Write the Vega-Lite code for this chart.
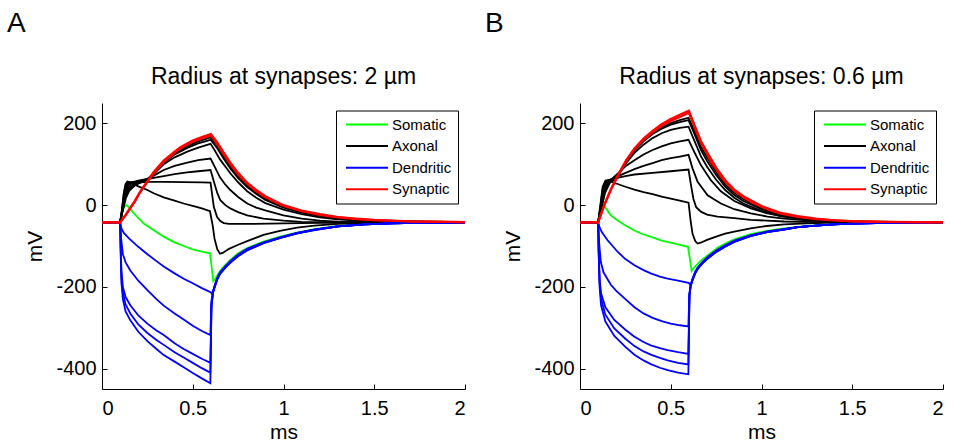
{
"$schema": "https://vega.github.io/schema/vega-lite/v6.json",
"background": "white",
"padding": {"left": 6, "top": 10, "right": 2, "bottom": 2},
"spacing": 14,
"config": {
  "font": "Liberation Sans",
  "view": {"stroke": null},
  "axis": {"domainColor": "black", "tickColor": "black", "labelColor": "black", "titleColor": "black", "labelFont": "Liberation Sans", "titleFont": "Liberation Sans", "labelFontSize": 20, "titleFontSize": 21, "titleFontWeight": "normal", "grid": false, "tickSize": -5, "domainWidth": 1, "tickWidth": 1, "labelPadding": 11},
  "title": {"font": "Liberation Sans", "fontWeight": "normal", "color": "black"},
  "legend": {"labelFont": "Liberation Sans", "labelFontSize": 15, "labelColor": "black"}
},
"resolve": {"scale": {"color": "independent"}},
"datasets": {
"A": [
{"g":"Somatic","id":"s","t":0,"v":-42},{"g":"Somatic","id":"s","t":0.1,"v":-42},{"g":"Somatic","id":"s","t":0.112,"v":-15},{"g":"Somatic","id":"s","t":0.125,"v":-2},{"g":"Somatic","id":"s","t":0.135,"v":0},{"g":"Somatic","id":"s","t":0.15,"v":-6},{"g":"Somatic","id":"s","t":0.18,"v":-22},{"g":"Somatic","id":"s","t":0.23,"v":-45},{"g":"Somatic","id":"s","t":0.3,"v":-66},{"g":"Somatic","id":"s","t":0.34,"v":-77},{"g":"Somatic","id":"s","t":0.4,"v":-91},{"g":"Somatic","id":"s","t":0.45,"v":-100},{"g":"Somatic","id":"s","t":0.5,"v":-108},{"g":"Somatic","id":"s","t":0.55,"v":-114},{"g":"Somatic","id":"s","t":0.595,"v":-118},{"g":"Somatic","id":"s","t":0.605,"v":-155},{"g":"Somatic","id":"s","t":0.613,"v":-186},{"g":"Somatic","id":"s","t":0.625,"v":-180},{"g":"Somatic","id":"s","t":0.64,"v":-168},{"g":"Somatic","id":"s","t":0.66,"v":-155},{"g":"Somatic","id":"s","t":0.707,"v":-134},{"g":"Somatic","id":"s","t":0.75,"v":-118},{"g":"Somatic","id":"s","t":0.8,"v":-105},{"g":"Somatic","id":"s","t":0.89,"v":-89},{"g":"Somatic","id":"s","t":0.98,"v":-77},{"g":"Somatic","id":"s","t":1.075,"v":-67},{"g":"Somatic","id":"s","t":1.17,"v":-59},{"g":"Somatic","id":"s","t":1.3,"v":-51},{"g":"Somatic","id":"s","t":1.45,"v":-46.5},{"g":"Somatic","id":"s","t":1.6,"v":-44},{"g":"Somatic","id":"s","t":1.8,"v":-43},{"g":"Somatic","id":"s","t":2,"v":-42.5},

{"g":"Axonal","id":"k7","t":0,"v":-42},{"g":"Axonal","id":"k7","t":0.1,"v":-42},{"g":"Axonal","id":"k7","t":0.11,"v":-10},{"g":"Axonal","id":"k7","t":0.12,"v":30},{"g":"Axonal","id":"k7","t":0.13,"v":52},{"g":"Axonal","id":"k7","t":0.14,"v":58},{"g":"Axonal","id":"k7","t":0.16,"v":55},{"g":"Axonal","id":"k7","t":0.2,"v":46},{"g":"Axonal","id":"k7","t":0.25,"v":37},{"g":"Axonal","id":"k7","t":0.285,"v":29},{"g":"Axonal","id":"k7","t":0.34,"v":19},{"g":"Axonal","id":"k7","t":0.4,"v":11},{"g":"Axonal","id":"k7","t":0.45,"v":4},{"g":"Axonal","id":"k7","t":0.5,"v":-2},{"g":"Axonal","id":"k7","t":0.55,"v":-8},{"g":"Axonal","id":"k7","t":0.595,"v":-15},{"g":"Axonal","id":"k7","t":0.61,"v":-50},{"g":"Axonal","id":"k7","t":0.62,"v":-82},{"g":"Axonal","id":"k7","t":0.635,"v":-108},{"g":"Axonal","id":"k7","t":0.65,"v":-119},{"g":"Axonal","id":"k7","t":0.665,"v":-117},{"g":"Axonal","id":"k7","t":0.7,"v":-107},{"g":"Axonal","id":"k7","t":0.75,"v":-97},{"g":"Axonal","id":"k7","t":0.8,"v":-88},{"g":"Axonal","id":"k7","t":0.89,"v":-73},{"g":"Axonal","id":"k7","t":0.98,"v":-63},{"g":"Axonal","id":"k7","t":1.075,"v":-55},{"g":"Axonal","id":"k7","t":1.17,"v":-50},{"g":"Axonal","id":"k7","t":1.3,"v":-46},{"g":"Axonal","id":"k7","t":1.5,"v":-43.5},{"g":"Axonal","id":"k7","t":1.8,"v":-42.5},{"g":"Axonal","id":"k7","t":2,"v":-42},

{"g":"Axonal","id":"k6","t":0,"v":-42},{"g":"Axonal","id":"k6","t":0.1,"v":-42},{"g":"Axonal","id":"k6","t":0.11,"v":-12},{"g":"Axonal","id":"k6","t":0.12,"v":25},{"g":"Axonal","id":"k6","t":0.13,"v":48},{"g":"Axonal","id":"k6","t":0.145,"v":55},{"g":"Axonal","id":"k6","t":0.17,"v":57},{"g":"Axonal","id":"k6","t":0.25,"v":57},{"g":"Axonal","id":"k6","t":0.35,"v":57},{"g":"Axonal","id":"k6","t":0.45,"v":56.5},{"g":"Axonal","id":"k6","t":0.55,"v":55.5},{"g":"Axonal","id":"k6","t":0.598,"v":55},{"g":"Axonal","id":"k6","t":0.616,"v":-4},{"g":"Axonal","id":"k6","t":0.634,"v":-29},{"g":"Axonal","id":"k6","t":0.652,"v":-39},{"g":"Axonal","id":"k6","t":0.671,"v":-44},{"g":"Axonal","id":"k6","t":0.7,"v":-46},{"g":"Axonal","id":"k6","t":0.8,"v":-46},{"g":"Axonal","id":"k6","t":1.0,"v":-44.5},{"g":"Axonal","id":"k6","t":1.3,"v":-43},{"g":"Axonal","id":"k6","t":2,"v":-42},

{"g":"Axonal","id":"k5","t":0,"v":-42},{"g":"Axonal","id":"k5","t":0.1,"v":-42},{"g":"Axonal","id":"k5","t":0.112,"v":-10},{"g":"Axonal","id":"k5","t":0.125,"v":30},{"g":"Axonal","id":"k5","t":0.14,"v":50},{"g":"Axonal","id":"k5","t":0.16,"v":55},{"g":"Axonal","id":"k5","t":0.2,"v":60},{"g":"Axonal","id":"k5","t":0.25,"v":64},{"g":"Axonal","id":"k5","t":0.3,"v":68},{"g":"Axonal","id":"k5","t":0.34,"v":71},{"g":"Axonal","id":"k5","t":0.4,"v":76},{"g":"Axonal","id":"k5","t":0.469,"v":80},{"g":"Axonal","id":"k5","t":0.53,"v":83},{"g":"Axonal","id":"k5","t":0.598,"v":86},{"g":"Axonal","id":"k5","t":0.615,"v":60},{"g":"Axonal","id":"k5","t":0.635,"v":30},{"g":"Axonal","id":"k5","t":0.652,"v":12},{"g":"Axonal","id":"k5","t":0.68,"v":0},{"g":"Axonal","id":"k5","t":0.707,"v":-8},{"g":"Axonal","id":"k5","t":0.75,"v":-17},{"g":"Axonal","id":"k5","t":0.8,"v":-25},{"g":"Axonal","id":"k5","t":0.89,"v":-33},{"g":"Axonal","id":"k5","t":1.0,"v":-38},{"g":"Axonal","id":"k5","t":1.1,"v":-41},{"g":"Axonal","id":"k5","t":1.3,"v":-42.5},{"g":"Axonal","id":"k5","t":2,"v":-42},

{"g":"Axonal","id":"k4","t":0,"v":-42},{"g":"Axonal","id":"k4","t":0.1,"v":-42},{"g":"Axonal","id":"k4","t":0.113,"v":-10},{"g":"Axonal","id":"k4","t":0.127,"v":28},{"g":"Axonal","id":"k4","t":0.145,"v":48},{"g":"Axonal","id":"k4","t":0.17,"v":55},{"g":"Axonal","id":"k4","t":0.2,"v":58},{"g":"Axonal","id":"k4","t":0.25,"v":64},{"g":"Axonal","id":"k4","t":0.3,"v":76},{"g":"Axonal","id":"k4","t":0.34,"v":86},{"g":"Axonal","id":"k4","t":0.4,"v":96},{"g":"Axonal","id":"k4","t":0.47,"v":104},{"g":"Axonal","id":"k4","t":0.53,"v":110},{"g":"Axonal","id":"k4","t":0.598,"v":114},{"g":"Axonal","id":"k4","t":0.62,"v":95},{"g":"Axonal","id":"k4","t":0.65,"v":68},{"g":"Axonal","id":"k4","t":0.68,"v":50},{"g":"Axonal","id":"k4","t":0.707,"v":37},{"g":"Axonal","id":"k4","t":0.75,"v":20},{"g":"Axonal","id":"k4","t":0.8,"v":4},{"g":"Axonal","id":"k4","t":0.85,"v":-6},{"g":"Axonal","id":"k4","t":0.9,"v":-13},{"g":"Axonal","id":"k4","t":1.0,"v":-25},{"g":"Axonal","id":"k4","t":1.1,"v":-33},{"g":"Axonal","id":"k4","t":1.2,"v":-38},{"g":"Axonal","id":"k4","t":1.3,"v":-40.5},{"g":"Axonal","id":"k4","t":1.5,"v":-42},{"g":"Axonal","id":"k4","t":2,"v":-42},

{"g":"Axonal","id":"k3","t":0,"v":-42},{"g":"Axonal","id":"k3","t":0.1,"v":-42},{"g":"Axonal","id":"k3","t":0.114,"v":-10},{"g":"Axonal","id":"k3","t":0.13,"v":25},{"g":"Axonal","id":"k3","t":0.15,"v":45},{"g":"Axonal","id":"k3","t":0.18,"v":53},{"g":"Axonal","id":"k3","t":0.2,"v":57},{"g":"Axonal","id":"k3","t":0.25,"v":64},{"g":"Axonal","id":"k3","t":0.3,"v":83},{"g":"Axonal","id":"k3","t":0.34,"v":100},{"g":"Axonal","id":"k3","t":0.4,"v":117},{"g":"Axonal","id":"k3","t":0.47,"v":131},{"g":"Axonal","id":"k3","t":0.53,"v":141},{"g":"Axonal","id":"k3","t":0.598,"v":150},{"g":"Axonal","id":"k3","t":0.62,"v":135},{"g":"Axonal","id":"k3","t":0.65,"v":112},{"g":"Axonal","id":"k3","t":0.707,"v":78},{"g":"Axonal","id":"k3","t":0.75,"v":56},{"g":"Axonal","id":"k3","t":0.8,"v":34},{"g":"Axonal","id":"k3","t":0.85,"v":18},{"g":"Axonal","id":"k3","t":0.9,"v":5},{"g":"Axonal","id":"k3","t":1.0,"v":-11},{"g":"Axonal","id":"k3","t":1.1,"v":-22},{"g":"Axonal","id":"k3","t":1.2,"v":-30},{"g":"Axonal","id":"k3","t":1.3,"v":-35},{"g":"Axonal","id":"k3","t":1.4,"v":-38},{"g":"Axonal","id":"k3","t":1.5,"v":-40},{"g":"Axonal","id":"k3","t":1.7,"v":-41.5},{"g":"Axonal","id":"k3","t":2,"v":-42},

{"g":"Axonal","id":"k2","t":0,"v":-42},{"g":"Axonal","id":"k2","t":0.1,"v":-42},{"g":"Axonal","id":"k2","t":0.115,"v":-10},{"g":"Axonal","id":"k2","t":0.13,"v":20},{"g":"Axonal","id":"k2","t":0.15,"v":40},{"g":"Axonal","id":"k2","t":0.18,"v":50},{"g":"Axonal","id":"k2","t":0.21,"v":55},{"g":"Axonal","id":"k2","t":0.25,"v":60},{"g":"Axonal","id":"k2","t":0.3,"v":84},{"g":"Axonal","id":"k2","t":0.34,"v":104},{"g":"Axonal","id":"k2","t":0.4,"v":124},{"g":"Axonal","id":"k2","t":0.47,"v":140},{"g":"Axonal","id":"k2","t":0.53,"v":151},{"g":"Axonal","id":"k2","t":0.598,"v":160},{"g":"Axonal","id":"k2","t":0.634,"v":140},{"g":"Axonal","id":"k2","t":0.67,"v":114},{"g":"Axonal","id":"k2","t":0.707,"v":90},{"g":"Axonal","id":"k2","t":0.75,"v":66},{"g":"Axonal","id":"k2","t":0.8,"v":44},{"g":"Axonal","id":"k2","t":0.85,"v":27},{"g":"Axonal","id":"k2","t":0.9,"v":13},{"g":"Axonal","id":"k2","t":1.0,"v":-6},{"g":"Axonal","id":"k2","t":1.1,"v":-18},{"g":"Axonal","id":"k2","t":1.2,"v":-26},{"g":"Axonal","id":"k2","t":1.3,"v":-32},{"g":"Axonal","id":"k2","t":1.4,"v":-35.5},{"g":"Axonal","id":"k2","t":1.5,"v":-38},{"g":"Axonal","id":"k2","t":1.7,"v":-40},{"g":"Axonal","id":"k2","t":2,"v":-41.5},

{"g":"Axonal","id":"k1","t":0,"v":-42},{"g":"Axonal","id":"k1","t":0.1,"v":-42},{"g":"Axonal","id":"k1","t":0.116,"v":-10},{"g":"Axonal","id":"k1","t":0.132,"v":18},{"g":"Axonal","id":"k1","t":0.15,"v":35},{"g":"Axonal","id":"k1","t":0.18,"v":48},{"g":"Axonal","id":"k1","t":0.21,"v":55},{"g":"Axonal","id":"k1","t":0.25,"v":60},{"g":"Axonal","id":"k1","t":0.3,"v":85},{"g":"Axonal","id":"k1","t":0.34,"v":105},{"g":"Axonal","id":"k1","t":0.4,"v":126},{"g":"Axonal","id":"k1","t":0.47,"v":144},{"g":"Axonal","id":"k1","t":0.53,"v":156},{"g":"Axonal","id":"k1","t":0.598,"v":166},{"g":"Axonal","id":"k1","t":0.634,"v":147},{"g":"Axonal","id":"k1","t":0.67,"v":121},{"g":"Axonal","id":"k1","t":0.707,"v":96},{"g":"Axonal","id":"k1","t":0.75,"v":71},{"g":"Axonal","id":"k1","t":0.8,"v":48},{"g":"Axonal","id":"k1","t":0.85,"v":30},{"g":"Axonal","id":"k1","t":0.9,"v":16},{"g":"Axonal","id":"k1","t":1.0,"v":-4},{"g":"Axonal","id":"k1","t":1.1,"v":-17},{"g":"Axonal","id":"k1","t":1.2,"v":-25},{"g":"Axonal","id":"k1","t":1.3,"v":-31},{"g":"Axonal","id":"k1","t":1.4,"v":-35},{"g":"Axonal","id":"k1","t":1.5,"v":-37.5},{"g":"Axonal","id":"k1","t":1.7,"v":-40},{"g":"Axonal","id":"k1","t":2,"v":-41.5},

{"g":"Dendritic","id":"b1","t":0,"v":-42},{"g":"Dendritic","id":"b1","t":0.1,"v":-42},{"g":"Dendritic","id":"b1","t":0.105,"v":-55},{"g":"Dendritic","id":"b1","t":0.12,"v":-68},{"g":"Dendritic","id":"b1","t":0.15,"v":-82},{"g":"Dendritic","id":"b1","t":0.2,"v":-102},{"g":"Dendritic","id":"b1","t":0.25,"v":-120},{"g":"Dendritic","id":"b1","t":0.3,"v":-137},{"g":"Dendritic","id":"b1","t":0.34,"v":-150},{"g":"Dendritic","id":"b1","t":0.4,"v":-167},{"g":"Dendritic","id":"b1","t":0.45,"v":-180},{"g":"Dendritic","id":"b1","t":0.5,"v":-191},{"g":"Dendritic","id":"b1","t":0.55,"v":-203},{"g":"Dendritic","id":"b1","t":0.598,"v":-213},{"g":"Dendritic","id":"b1","t":0.606,"v":-217},{"g":"Dendritic","id":"b1","t":0.612,"v":-210},{"g":"Dendritic","id":"b1","t":0.62,"v":-198},{"g":"Dendritic","id":"b1","t":0.635,"v":-178},{"g":"Dendritic","id":"b1","t":0.65,"v":-165},{"g":"Dendritic","id":"b1","t":0.68,"v":-149},{"g":"Dendritic","id":"b1","t":0.707,"v":-137},{"g":"Dendritic","id":"b1","t":0.75,"v":-121},{"g":"Dendritic","id":"b1","t":0.8,"v":-107},{"g":"Dendritic","id":"b1","t":0.89,"v":-91},{"g":"Dendritic","id":"b1","t":0.98,"v":-79},{"g":"Dendritic","id":"b1","t":1.075,"v":-68},{"g":"Dendritic","id":"b1","t":1.17,"v":-60},{"g":"Dendritic","id":"b1","t":1.3,"v":-52},{"g":"Dendritic","id":"b1","t":1.45,"v":-47},{"g":"Dendritic","id":"b1","t":1.6,"v":-44.5},{"g":"Dendritic","id":"b1","t":1.8,"v":-43},{"g":"Dendritic","id":"b1","t":2,"v":-42.5},

{"g":"Dendritic","id":"b2","t":0,"v":-42},{"g":"Dendritic","id":"b2","t":0.1,"v":-42},{"g":"Dendritic","id":"b2","t":0.105,"v":-80},{"g":"Dendritic","id":"b2","t":0.115,"v":-120},{"g":"Dendritic","id":"b2","t":0.13,"v":-140},{"g":"Dendritic","id":"b2","t":0.156,"v":-160},{"g":"Dendritic","id":"b2","t":0.2,"v":-185},{"g":"Dendritic","id":"b2","t":0.25,"v":-208},{"g":"Dendritic","id":"b2","t":0.3,"v":-230},{"g":"Dendritic","id":"b2","t":0.34,"v":-246},{"g":"Dendritic","id":"b2","t":0.4,"v":-265},{"g":"Dendritic","id":"b2","t":0.45,"v":-280},{"g":"Dendritic","id":"b2","t":0.5,"v":-295},{"g":"Dendritic","id":"b2","t":0.55,"v":-308},{"g":"Dendritic","id":"b2","t":0.597,"v":-318},{"g":"Dendritic","id":"b2","t":0.603,"v":-235},{"g":"Dendritic","id":"b2","t":0.612,"v":-211},{"g":"Dendritic","id":"b2","t":0.62,"v":-199},{"g":"Dendritic","id":"b2","t":0.635,"v":-179},{"g":"Dendritic","id":"b2","t":0.65,"v":-166},{"g":"Dendritic","id":"b2","t":0.68,"v":-150},{"g":"Dendritic","id":"b2","t":0.707,"v":-138},{"g":"Dendritic","id":"b2","t":0.75,"v":-122},{"g":"Dendritic","id":"b2","t":0.8,"v":-108},{"g":"Dendritic","id":"b2","t":0.89,"v":-92},{"g":"Dendritic","id":"b2","t":0.98,"v":-80},{"g":"Dendritic","id":"b2","t":1.075,"v":-68},{"g":"Dendritic","id":"b2","t":1.17,"v":-60},{"g":"Dendritic","id":"b2","t":1.3,"v":-52},{"g":"Dendritic","id":"b2","t":1.45,"v":-47},{"g":"Dendritic","id":"b2","t":1.6,"v":-44.5},{"g":"Dendritic","id":"b2","t":1.8,"v":-43},{"g":"Dendritic","id":"b2","t":2,"v":-42.5},

{"g":"Dendritic","id":"b3","t":0,"v":-42},{"g":"Dendritic","id":"b3","t":0.1,"v":-42},{"g":"Dendritic","id":"b3","t":0.103,"v":-100},{"g":"Dendritic","id":"b3","t":0.107,"v":-160},{"g":"Dendritic","id":"b3","t":0.115,"v":-200},{"g":"Dendritic","id":"b3","t":0.13,"v":-225},{"g":"Dendritic","id":"b3","t":0.156,"v":-245},{"g":"Dendritic","id":"b3","t":0.2,"v":-270},{"g":"Dendritic","id":"b3","t":0.25,"v":-290},{"g":"Dendritic","id":"b3","t":0.3,"v":-307},{"g":"Dendritic","id":"b3","t":0.34,"v":-318},{"g":"Dendritic","id":"b3","t":0.4,"v":-338},{"g":"Dendritic","id":"b3","t":0.45,"v":-352},{"g":"Dendritic","id":"b3","t":0.5,"v":-364},{"g":"Dendritic","id":"b3","t":0.55,"v":-376},{"g":"Dendritic","id":"b3","t":0.597,"v":-386},{"g":"Dendritic","id":"b3","t":0.603,"v":-240},{"g":"Dendritic","id":"b3","t":0.612,"v":-212},{"g":"Dendritic","id":"b3","t":0.62,"v":-200},{"g":"Dendritic","id":"b3","t":0.635,"v":-180},{"g":"Dendritic","id":"b3","t":0.65,"v":-167},{"g":"Dendritic","id":"b3","t":0.68,"v":-151},{"g":"Dendritic","id":"b3","t":0.707,"v":-139},{"g":"Dendritic","id":"b3","t":0.75,"v":-123},{"g":"Dendritic","id":"b3","t":0.8,"v":-109},{"g":"Dendritic","id":"b3","t":0.89,"v":-92},{"g":"Dendritic","id":"b3","t":0.98,"v":-80},{"g":"Dendritic","id":"b3","t":1.075,"v":-69},{"g":"Dendritic","id":"b3","t":1.17,"v":-60},{"g":"Dendritic","id":"b3","t":1.3,"v":-52},{"g":"Dendritic","id":"b3","t":1.45,"v":-47},{"g":"Dendritic","id":"b3","t":1.6,"v":-44.5},{"g":"Dendritic","id":"b3","t":1.8,"v":-43},{"g":"Dendritic","id":"b3","t":2,"v":-42.5},

{"g":"Dendritic","id":"b4","t":0,"v":-42},{"g":"Dendritic","id":"b4","t":0.1,"v":-42},{"g":"Dendritic","id":"b4","t":0.103,"v":-110},{"g":"Dendritic","id":"b4","t":0.107,"v":-175},{"g":"Dendritic","id":"b4","t":0.115,"v":-215},{"g":"Dendritic","id":"b4","t":0.13,"v":-243},{"g":"Dendritic","id":"b4","t":0.156,"v":-265},{"g":"Dendritic","id":"b4","t":0.2,"v":-292},{"g":"Dendritic","id":"b4","t":0.25,"v":-313},{"g":"Dendritic","id":"b4","t":0.3,"v":-330},{"g":"Dendritic","id":"b4","t":0.34,"v":-342},{"g":"Dendritic","id":"b4","t":0.4,"v":-360},{"g":"Dendritic","id":"b4","t":0.45,"v":-373},{"g":"Dendritic","id":"b4","t":0.5,"v":-386},{"g":"Dendritic","id":"b4","t":0.55,"v":-399},{"g":"Dendritic","id":"b4","t":0.597,"v":-410},{"g":"Dendritic","id":"b4","t":0.603,"v":-245},{"g":"Dendritic","id":"b4","t":0.612,"v":-213},{"g":"Dendritic","id":"b4","t":0.62,"v":-201},{"g":"Dendritic","id":"b4","t":0.635,"v":-181},{"g":"Dendritic","id":"b4","t":0.65,"v":-168},{"g":"Dendritic","id":"b4","t":0.68,"v":-152},{"g":"Dendritic","id":"b4","t":0.707,"v":-140},{"g":"Dendritic","id":"b4","t":0.75,"v":-124},{"g":"Dendritic","id":"b4","t":0.8,"v":-110},{"g":"Dendritic","id":"b4","t":0.89,"v":-93},{"g":"Dendritic","id":"b4","t":0.98,"v":-80},{"g":"Dendritic","id":"b4","t":1.075,"v":-69},{"g":"Dendritic","id":"b4","t":1.17,"v":-61},{"g":"Dendritic","id":"b4","t":1.3,"v":-52},{"g":"Dendritic","id":"b4","t":1.45,"v":-47},{"g":"Dendritic","id":"b4","t":1.6,"v":-44.5},{"g":"Dendritic","id":"b4","t":1.8,"v":-43},{"g":"Dendritic","id":"b4","t":2,"v":-42.5},

{"g":"Dendritic","id":"b5","t":0,"v":-42},{"g":"Dendritic","id":"b5","t":0.1,"v":-42},{"g":"Dendritic","id":"b5","t":0.103,"v":-120},{"g":"Dendritic","id":"b5","t":0.107,"v":-190},{"g":"Dendritic","id":"b5","t":0.115,"v":-230},{"g":"Dendritic","id":"b5","t":0.13,"v":-260},{"g":"Dendritic","id":"b5","t":0.156,"v":-282},{"g":"Dendritic","id":"b5","t":0.2,"v":-310},{"g":"Dendritic","id":"b5","t":0.25,"v":-333},{"g":"Dendritic","id":"b5","t":0.3,"v":-352},{"g":"Dendritic","id":"b5","t":0.34,"v":-367},{"g":"Dendritic","id":"b5","t":0.4,"v":-383},{"g":"Dendritic","id":"b5","t":0.45,"v":-397},{"g":"Dendritic","id":"b5","t":0.5,"v":-411},{"g":"Dendritic","id":"b5","t":0.55,"v":-424},{"g":"Dendritic","id":"b5","t":0.597,"v":-436},{"g":"Dendritic","id":"b5","t":0.603,"v":-250},{"g":"Dendritic","id":"b5","t":0.612,"v":-214},{"g":"Dendritic","id":"b5","t":0.62,"v":-202},{"g":"Dendritic","id":"b5","t":0.635,"v":-182},{"g":"Dendritic","id":"b5","t":0.65,"v":-169},{"g":"Dendritic","id":"b5","t":0.68,"v":-153},{"g":"Dendritic","id":"b5","t":0.707,"v":-141},{"g":"Dendritic","id":"b5","t":0.75,"v":-125},{"g":"Dendritic","id":"b5","t":0.8,"v":-111},{"g":"Dendritic","id":"b5","t":0.89,"v":-93},{"g":"Dendritic","id":"b5","t":0.98,"v":-81},{"g":"Dendritic","id":"b5","t":1.075,"v":-69},{"g":"Dendritic","id":"b5","t":1.17,"v":-61},{"g":"Dendritic","id":"b5","t":1.3,"v":-52},{"g":"Dendritic","id":"b5","t":1.45,"v":-47},{"g":"Dendritic","id":"b5","t":1.6,"v":-44.5},{"g":"Dendritic","id":"b5","t":1.8,"v":-43},{"g":"Dendritic","id":"b5","t":2,"v":-42.5},

{"g":"Synaptic","id":"r1","t":0,"v":-42},{"g":"Synaptic","id":"r1","t":0.1,"v":-42},{"g":"Synaptic","id":"r1","t":0.13,"v":-25},{"g":"Synaptic","id":"r1","t":0.156,"v":-8},{"g":"Synaptic","id":"r1","t":0.18,"v":8},{"g":"Synaptic","id":"r1","t":0.211,"v":32},{"g":"Synaptic","id":"r1","t":0.25,"v":57},{"g":"Synaptic","id":"r1","t":0.285,"v":78},{"g":"Synaptic","id":"r1","t":0.34,"v":106},{"g":"Synaptic","id":"r1","t":0.4,"v":128},{"g":"Synaptic","id":"r1","t":0.432,"v":139},{"g":"Synaptic","id":"r1","t":0.5,"v":155},{"g":"Synaptic","id":"r1","t":0.55,"v":163},{"g":"Synaptic","id":"r1","t":0.6,"v":170},{"g":"Synaptic","id":"r1","t":0.634,"v":150},{"g":"Synaptic","id":"r1","t":0.67,"v":125},{"g":"Synaptic","id":"r1","t":0.707,"v":100},{"g":"Synaptic","id":"r1","t":0.75,"v":75},{"g":"Synaptic","id":"r1","t":0.8,"v":52},{"g":"Synaptic","id":"r1","t":0.85,"v":34},{"g":"Synaptic","id":"r1","t":0.9,"v":19},{"g":"Synaptic","id":"r1","t":1.0,"v":-2},{"g":"Synaptic","id":"r1","t":1.1,"v":-15},{"g":"Synaptic","id":"r1","t":1.2,"v":-24},{"g":"Synaptic","id":"r1","t":1.3,"v":-30},{"g":"Synaptic","id":"r1","t":1.4,"v":-34},{"g":"Synaptic","id":"r1","t":1.5,"v":-37},{"g":"Synaptic","id":"r1","t":1.7,"v":-40},{"g":"Synaptic","id":"r1","t":2,"v":-41.5},

{"g":"Synaptic","id":"r2","t":0,"v":-42},{"g":"Synaptic","id":"r2","t":0.1,"v":-42},{"g":"Synaptic","id":"r2","t":0.13,"v":-24},{"g":"Synaptic","id":"r2","t":0.156,"v":-6},{"g":"Synaptic","id":"r2","t":0.18,"v":10},{"g":"Synaptic","id":"r2","t":0.211,"v":34},{"g":"Synaptic","id":"r2","t":0.25,"v":59},{"g":"Synaptic","id":"r2","t":0.285,"v":81},{"g":"Synaptic","id":"r2","t":0.34,"v":109},{"g":"Synaptic","id":"r2","t":0.4,"v":131},{"g":"Synaptic","id":"r2","t":0.432,"v":142},{"g":"Synaptic","id":"r2","t":0.5,"v":158},{"g":"Synaptic","id":"r2","t":0.55,"v":167},{"g":"Synaptic","id":"r2","t":0.6,"v":174},{"g":"Synaptic","id":"r2","t":0.634,"v":154},{"g":"Synaptic","id":"r2","t":0.67,"v":129},{"g":"Synaptic","id":"r2","t":0.707,"v":104},{"g":"Synaptic","id":"r2","t":0.75,"v":79},{"g":"Synaptic","id":"r2","t":0.8,"v":55},{"g":"Synaptic","id":"r2","t":0.85,"v":37},{"g":"Synaptic","id":"r2","t":0.9,"v":22},{"g":"Synaptic","id":"r2","t":1.0,"v":0},{"g":"Synaptic","id":"r2","t":1.1,"v":-13},{"g":"Synaptic","id":"r2","t":1.2,"v":-22},{"g":"Synaptic","id":"r2","t":1.3,"v":-29},{"g":"Synaptic","id":"r2","t":1.4,"v":-33},{"g":"Synaptic","id":"r2","t":1.5,"v":-36},{"g":"Synaptic","id":"r2","t":1.7,"v":-39.5},{"g":"Synaptic","id":"r2","t":2,"v":-41.5}
],
"B": [
{"g":"Somatic","id":"s","t":0,"v":-42},{"g":"Somatic","id":"s","t":0.1,"v":-42},{"g":"Somatic","id":"s","t":0.112,"v":-8},{"g":"Somatic","id":"s","t":0.125,"v":2},{"g":"Somatic","id":"s","t":0.14,"v":-6},{"g":"Somatic","id":"s","t":0.17,"v":-25},{"g":"Somatic","id":"s","t":0.2,"v":-35},{"g":"Somatic","id":"s","t":0.244,"v":-48},{"g":"Somatic","id":"s","t":0.3,"v":-62},{"g":"Somatic","id":"s","t":0.34,"v":-70},{"g":"Somatic","id":"s","t":0.4,"v":-79},{"g":"Somatic","id":"s","t":0.45,"v":-87},{"g":"Somatic","id":"s","t":0.5,"v":-92},{"g":"Somatic","id":"s","t":0.55,"v":-97},{"g":"Somatic","id":"s","t":0.595,"v":-102},{"g":"Somatic","id":"s","t":0.605,"v":-130},{"g":"Somatic","id":"s","t":0.615,"v":-161},{"g":"Somatic","id":"s","t":0.63,"v":-152},{"g":"Somatic","id":"s","t":0.648,"v":-144},{"g":"Somatic","id":"s","t":0.666,"v":-136},{"g":"Somatic","id":"s","t":0.703,"v":-123},{"g":"Somatic","id":"s","t":0.758,"v":-104},{"g":"Somatic","id":"s","t":0.8,"v":-94},{"g":"Somatic","id":"s","t":0.85,"v":-84},{"g":"Somatic","id":"s","t":0.94,"v":-71},{"g":"Somatic","id":"s","t":1.03,"v":-63},{"g":"Somatic","id":"s","t":1.125,"v":-57},{"g":"Somatic","id":"s","t":1.25,"v":-51},{"g":"Somatic","id":"s","t":1.4,"v":-47},{"g":"Somatic","id":"s","t":1.6,"v":-44},{"g":"Somatic","id":"s","t":1.8,"v":-43},{"g":"Somatic","id":"s","t":2,"v":-42.5},

{"g":"Axonal","id":"k7","t":0,"v":-42},{"g":"Axonal","id":"k7","t":0.1,"v":-42},{"g":"Axonal","id":"k7","t":0.112,"v":0},{"g":"Axonal","id":"k7","t":0.125,"v":45},{"g":"Axonal","id":"k7","t":0.14,"v":60},{"g":"Axonal","id":"k7","t":0.155,"v":61},{"g":"Axonal","id":"k7","t":0.2,"v":53},{"g":"Axonal","id":"k7","t":0.25,"v":45},{"g":"Axonal","id":"k7","t":0.3,"v":38},{"g":"Axonal","id":"k7","t":0.35,"v":32},{"g":"Axonal","id":"k7","t":0.4,"v":27},{"g":"Axonal","id":"k7","t":0.45,"v":21},{"g":"Axonal","id":"k7","t":0.5,"v":16},{"g":"Axonal","id":"k7","t":0.55,"v":11},{"g":"Axonal","id":"k7","t":0.598,"v":6},{"g":"Axonal","id":"k7","t":0.61,"v":-40},{"g":"Axonal","id":"k7","t":0.62,"v":-70},{"g":"Axonal","id":"k7","t":0.635,"v":-88},{"g":"Axonal","id":"k7","t":0.648,"v":-94},{"g":"Axonal","id":"k7","t":0.665,"v":-92},{"g":"Axonal","id":"k7","t":0.7,"v":-85},{"g":"Axonal","id":"k7","t":0.75,"v":-77},{"g":"Axonal","id":"k7","t":0.8,"v":-70},{"g":"Axonal","id":"k7","t":0.85,"v":-65},{"g":"Axonal","id":"k7","t":0.94,"v":-57},{"g":"Axonal","id":"k7","t":1.03,"v":-51},{"g":"Axonal","id":"k7","t":1.125,"v":-47},{"g":"Axonal","id":"k7","t":1.25,"v":-44.5},{"g":"Axonal","id":"k7","t":1.4,"v":-43},{"g":"Axonal","id":"k7","t":2,"v":-42},

{"g":"Axonal","id":"k6","t":0,"v":-42},{"g":"Axonal","id":"k6","t":0.1,"v":-42},{"g":"Axonal","id":"k6","t":0.112,"v":-5},{"g":"Axonal","id":"k6","t":0.125,"v":40},{"g":"Axonal","id":"k6","t":0.14,"v":57},{"g":"Axonal","id":"k6","t":0.16,"v":62},{"g":"Axonal","id":"k6","t":0.2,"v":66},{"g":"Axonal","id":"k6","t":0.25,"v":71},{"g":"Axonal","id":"k6","t":0.3,"v":75},{"g":"Axonal","id":"k6","t":0.4,"v":79},{"g":"Axonal","id":"k6","t":0.5,"v":83},{"g":"Axonal","id":"k6","t":0.598,"v":87},{"g":"Axonal","id":"k6","t":0.611,"v":50},{"g":"Axonal","id":"k6","t":0.625,"v":15},{"g":"Axonal","id":"k6","t":0.64,"v":-5},{"g":"Axonal","id":"k6","t":0.666,"v":-16},{"g":"Axonal","id":"k6","t":0.7,"v":-23},{"g":"Axonal","id":"k6","t":0.758,"v":-28},{"g":"Axonal","id":"k6","t":0.85,"v":-32},{"g":"Axonal","id":"k6","t":0.94,"v":-36},{"g":"Axonal","id":"k6","t":1.03,"v":-38},{"g":"Axonal","id":"k6","t":1.125,"v":-40},{"g":"Axonal","id":"k6","t":1.3,"v":-41.5},{"g":"Axonal","id":"k6","t":2,"v":-42},

{"g":"Axonal","id":"k5","t":0,"v":-42},{"g":"Axonal","id":"k5","t":0.1,"v":-42},{"g":"Axonal","id":"k5","t":0.115,"v":-5},{"g":"Axonal","id":"k5","t":0.13,"v":40},{"g":"Axonal","id":"k5","t":0.15,"v":58},{"g":"Axonal","id":"k5","t":0.18,"v":65},{"g":"Axonal","id":"k5","t":0.226,"v":74},{"g":"Axonal","id":"k5","t":0.3,"v":88},{"g":"Axonal","id":"k5","t":0.35,"v":96},{"g":"Axonal","id":"k5","t":0.4,"v":103},{"g":"Axonal","id":"k5","t":0.45,"v":110},{"g":"Axonal","id":"k5","t":0.5,"v":115},{"g":"Axonal","id":"k5","t":0.55,"v":119},{"g":"Axonal","id":"k5","t":0.598,"v":123},{"g":"Axonal","id":"k5","t":0.62,"v":90},{"g":"Axonal","id":"k5","t":0.648,"v":57},{"g":"Axonal","id":"k5","t":0.703,"v":24},{"g":"Axonal","id":"k5","t":0.776,"v":4},{"g":"Axonal","id":"k5","t":0.85,"v":-10},{"g":"Axonal","id":"k5","t":0.941,"v":-20},{"g":"Axonal","id":"k5","t":1.033,"v":-28},{"g":"Axonal","id":"k5","t":1.125,"v":-33},{"g":"Axonal","id":"k5","t":1.25,"v":-37.5},{"g":"Axonal","id":"k5","t":1.4,"v":-40.5},{"g":"Axonal","id":"k5","t":1.6,"v":-41.5},{"g":"Axonal","id":"k5","t":2,"v":-42},

{"g":"Axonal","id":"k4","t":0,"v":-42},{"g":"Axonal","id":"k4","t":0.1,"v":-42},{"g":"Axonal","id":"k4","t":0.116,"v":-5},{"g":"Axonal","id":"k4","t":0.132,"v":38},{"g":"Axonal","id":"k4","t":0.15,"v":56},{"g":"Axonal","id":"k4","t":0.18,"v":66},{"g":"Axonal","id":"k4","t":0.22,"v":82},{"g":"Axonal","id":"k4","t":0.253,"v":96},{"g":"Axonal","id":"k4","t":0.3,"v":110},{"g":"Axonal","id":"k4","t":0.35,"v":124},{"g":"Axonal","id":"k4","t":0.4,"v":135},{"g":"Axonal","id":"k4","t":0.45,"v":144},{"g":"Axonal","id":"k4","t":0.5,"v":151},{"g":"Axonal","id":"k4","t":0.55,"v":156},{"g":"Axonal","id":"k4","t":0.598,"v":160},{"g":"Axonal","id":"k4","t":0.63,"v":130},{"g":"Axonal","id":"k4","t":0.666,"v":98},{"g":"Axonal","id":"k4","t":0.721,"v":61},{"g":"Axonal","id":"k4","t":0.776,"v":34},{"g":"Axonal","id":"k4","t":0.85,"v":10},{"g":"Axonal","id":"k4","t":0.941,"v":-8},{"g":"Axonal","id":"k4","t":1.033,"v":-20},{"g":"Axonal","id":"k4","t":1.125,"v":-28},{"g":"Axonal","id":"k4","t":1.25,"v":-35},{"g":"Axonal","id":"k4","t":1.4,"v":-39},{"g":"Axonal","id":"k4","t":1.6,"v":-41},{"g":"Axonal","id":"k4","t":2,"v":-42},

{"g":"Axonal","id":"k3","t":0,"v":-42},{"g":"Axonal","id":"k3","t":0.1,"v":-42},{"g":"Axonal","id":"k3","t":0.117,"v":-5},{"g":"Axonal","id":"k3","t":0.134,"v":35},{"g":"Axonal","id":"k3","t":0.155,"v":55},{"g":"Axonal","id":"k3","t":0.2,"v":66},{"g":"Axonal","id":"k3","t":0.253,"v":102},{"g":"Axonal","id":"k3","t":0.3,"v":128},{"g":"Axonal","id":"k3","t":0.35,"v":148},{"g":"Axonal","id":"k3","t":0.4,"v":164},{"g":"Axonal","id":"k3","t":0.45,"v":176},{"g":"Axonal","id":"k3","t":0.5,"v":184},{"g":"Axonal","id":"k3","t":0.55,"v":189},{"g":"Axonal","id":"k3","t":0.598,"v":192},{"g":"Axonal","id":"k3","t":0.63,"v":158},{"g":"Axonal","id":"k3","t":0.666,"v":120},{"g":"Axonal","id":"k3","t":0.7,"v":94},{"g":"Axonal","id":"k3","t":0.75,"v":62},{"g":"Axonal","id":"k3","t":0.8,"v":37},{"g":"Axonal","id":"k3","t":0.85,"v":18},{"g":"Axonal","id":"k3","t":0.9,"v":4},{"g":"Axonal","id":"k3","t":1.0,"v":-14},{"g":"Axonal","id":"k3","t":1.1,"v":-26},{"g":"Axonal","id":"k3","t":1.2,"v":-33},{"g":"Axonal","id":"k3","t":1.3,"v":-37},{"g":"Axonal","id":"k3","t":1.5,"v":-40.5},{"g":"Axonal","id":"k3","t":2,"v":-42},

{"g":"Axonal","id":"k2","t":0,"v":-42},{"g":"Axonal","id":"k2","t":0.1,"v":-42},{"g":"Axonal","id":"k2","t":0.118,"v":-5},{"g":"Axonal","id":"k2","t":0.136,"v":32},{"g":"Axonal","id":"k2","t":0.16,"v":55},{"g":"Axonal","id":"k2","t":0.2,"v":66},{"g":"Axonal","id":"k2","t":0.253,"v":105},{"g":"Axonal","id":"k2","t":0.3,"v":134},{"g":"Axonal","id":"k2","t":0.35,"v":156},{"g":"Axonal","id":"k2","t":0.4,"v":174},{"g":"Axonal","id":"k2","t":0.45,"v":187},{"g":"Axonal","id":"k2","t":0.5,"v":197},{"g":"Axonal","id":"k2","t":0.55,"v":203},{"g":"Axonal","id":"k2","t":0.598,"v":208},{"g":"Axonal","id":"k2","t":0.63,"v":175},{"g":"Axonal","id":"k2","t":0.666,"v":135},{"g":"Axonal","id":"k2","t":0.7,"v":108},{"g":"Axonal","id":"k2","t":0.75,"v":74},{"g":"Axonal","id":"k2","t":0.8,"v":45},{"g":"Axonal","id":"k2","t":0.85,"v":25},{"g":"Axonal","id":"k2","t":0.9,"v":10},{"g":"Axonal","id":"k2","t":1.0,"v":-10},{"g":"Axonal","id":"k2","t":1.1,"v":-23},{"g":"Axonal","id":"k2","t":1.2,"v":-31},{"g":"Axonal","id":"k2","t":1.3,"v":-36},{"g":"Axonal","id":"k2","t":1.5,"v":-40},{"g":"Axonal","id":"k2","t":2,"v":-42},

{"g":"Axonal","id":"k1","t":0,"v":-42},{"g":"Axonal","id":"k1","t":0.1,"v":-42},{"g":"Axonal","id":"k1","t":0.119,"v":-5},{"g":"Axonal","id":"k1","t":0.138,"v":30},{"g":"Axonal","id":"k1","t":0.165,"v":55},{"g":"Axonal","id":"k1","t":0.2,"v":67},{"g":"Axonal","id":"k1","t":0.253,"v":106},{"g":"Axonal","id":"k1","t":0.3,"v":135},{"g":"Axonal","id":"k1","t":0.35,"v":158},{"g":"Axonal","id":"k1","t":0.4,"v":176},{"g":"Axonal","id":"k1","t":0.45,"v":190},{"g":"Axonal","id":"k1","t":0.5,"v":201},{"g":"Axonal","id":"k1","t":0.55,"v":208},{"g":"Axonal","id":"k1","t":0.598,"v":214},{"g":"Axonal","id":"k1","t":0.63,"v":182},{"g":"Axonal","id":"k1","t":0.666,"v":143},{"g":"Axonal","id":"k1","t":0.7,"v":117},{"g":"Axonal","id":"k1","t":0.75,"v":81},{"g":"Axonal","id":"k1","t":0.8,"v":51},{"g":"Axonal","id":"k1","t":0.85,"v":30},{"g":"Axonal","id":"k1","t":0.9,"v":15},{"g":"Axonal","id":"k1","t":0.95,"v":3},{"g":"Axonal","id":"k1","t":1.0,"v":-7},{"g":"Axonal","id":"k1","t":1.1,"v":-21},{"g":"Axonal","id":"k1","t":1.2,"v":-30},{"g":"Axonal","id":"k1","t":1.3,"v":-35},{"g":"Axonal","id":"k1","t":1.4,"v":-38},{"g":"Axonal","id":"k1","t":1.5,"v":-40},{"g":"Axonal","id":"k1","t":1.7,"v":-41.5},{"g":"Axonal","id":"k1","t":2,"v":-42},

{"g":"Dendritic","id":"b1","t":0,"v":-42},{"g":"Dendritic","id":"b1","t":0.1,"v":-42},{"g":"Dendritic","id":"b1","t":0.107,"v":-53},{"g":"Dendritic","id":"b1","t":0.12,"v":-66},{"g":"Dendritic","id":"b1","t":0.152,"v":-86},{"g":"Dendritic","id":"b1","t":0.207,"v":-114},{"g":"Dendritic","id":"b1","t":0.25,"v":-132},{"g":"Dendritic","id":"b1","t":0.3,"v":-147},{"g":"Dendritic","id":"b1","t":0.35,"v":-159},{"g":"Dendritic","id":"b1","t":0.39,"v":-167},{"g":"Dendritic","id":"b1","t":0.44,"v":-175},{"g":"Dendritic","id":"b1","t":0.483,"v":-180},{"g":"Dendritic","id":"b1","t":0.54,"v":-185},{"g":"Dendritic","id":"b1","t":0.598,"v":-190},{"g":"Dendritic","id":"b1","t":0.606,"v":-194},{"g":"Dendritic","id":"b1","t":0.615,"v":-188},{"g":"Dendritic","id":"b1","t":0.62,"v":-180},{"g":"Dendritic","id":"b1","t":0.635,"v":-163},{"g":"Dendritic","id":"b1","t":0.648,"v":-153},{"g":"Dendritic","id":"b1","t":0.67,"v":-141},{"g":"Dendritic","id":"b1","t":0.703,"v":-127},{"g":"Dendritic","id":"b1","t":0.75,"v":-111},{"g":"Dendritic","id":"b1","t":0.8,"v":-98},{"g":"Dendritic","id":"b1","t":0.85,"v":-87},{"g":"Dendritic","id":"b1","t":0.94,"v":-74},{"g":"Dendritic","id":"b1","t":1.03,"v":-65},{"g":"Dendritic","id":"b1","t":1.125,"v":-59},{"g":"Dendritic","id":"b1","t":1.2,"v":-54},{"g":"Dendritic","id":"b1","t":1.3,"v":-50},{"g":"Dendritic","id":"b1","t":1.4,"v":-47},{"g":"Dendritic","id":"b1","t":1.5,"v":-45},{"g":"Dendritic","id":"b1","t":1.7,"v":-43.5},{"g":"Dendritic","id":"b1","t":2,"v":-42.5},

{"g":"Dendritic","id":"b2","t":0,"v":-42},{"g":"Dendritic","id":"b2","t":0.1,"v":-42},{"g":"Dendritic","id":"b2","t":0.105,"v":-90},{"g":"Dendritic","id":"b2","t":0.115,"v":-140},{"g":"Dendritic","id":"b2","t":0.13,"v":-165},{"g":"Dendritic","id":"b2","t":0.17,"v":-195},{"g":"Dendritic","id":"b2","t":0.2,"v":-210},{"g":"Dendritic","id":"b2","t":0.25,"v":-230},{"g":"Dendritic","id":"b2","t":0.3,"v":-250},{"g":"Dendritic","id":"b2","t":0.35,"v":-265},{"g":"Dendritic","id":"b2","t":0.4,"v":-276},{"g":"Dendritic","id":"b2","t":0.45,"v":-284},{"g":"Dendritic","id":"b2","t":0.5,"v":-290},{"g":"Dendritic","id":"b2","t":0.55,"v":-294},{"g":"Dendritic","id":"b2","t":0.597,"v":-297},{"g":"Dendritic","id":"b2","t":0.603,"v":-215},{"g":"Dendritic","id":"b2","t":0.61,"v":-195},{"g":"Dendritic","id":"b2","t":0.62,"v":-181},{"g":"Dendritic","id":"b2","t":0.635,"v":-164},{"g":"Dendritic","id":"b2","t":0.648,"v":-154},{"g":"Dendritic","id":"b2","t":0.67,"v":-142},{"g":"Dendritic","id":"b2","t":0.703,"v":-128},{"g":"Dendritic","id":"b2","t":0.75,"v":-112},{"g":"Dendritic","id":"b2","t":0.8,"v":-99},{"g":"Dendritic","id":"b2","t":0.85,"v":-88},{"g":"Dendritic","id":"b2","t":0.94,"v":-74},{"g":"Dendritic","id":"b2","t":1.03,"v":-65},{"g":"Dendritic","id":"b2","t":1.125,"v":-59},{"g":"Dendritic","id":"b2","t":1.2,"v":-54},{"g":"Dendritic","id":"b2","t":1.3,"v":-50},{"g":"Dendritic","id":"b2","t":1.4,"v":-47},{"g":"Dendritic","id":"b2","t":1.5,"v":-45},{"g":"Dendritic","id":"b2","t":1.7,"v":-43.5},{"g":"Dendritic","id":"b2","t":2,"v":-42.5},

{"g":"Dendritic","id":"b3","t":0,"v":-42},{"g":"Dendritic","id":"b3","t":0.1,"v":-42},{"g":"Dendritic","id":"b3","t":0.103,"v":-110},{"g":"Dendritic","id":"b3","t":0.108,"v":-180},{"g":"Dendritic","id":"b3","t":0.116,"v":-216},{"g":"Dendritic","id":"b3","t":0.14,"v":-250},{"g":"Dendritic","id":"b3","t":0.189,"v":-281},{"g":"Dendritic","id":"b3","t":0.25,"v":-305},{"g":"Dendritic","id":"b3","t":0.3,"v":-322},{"g":"Dendritic","id":"b3","t":0.35,"v":-335},{"g":"Dendritic","id":"b3","t":0.39,"v":-343},{"g":"Dendritic","id":"b3","t":0.44,"v":-350},{"g":"Dendritic","id":"b3","t":0.483,"v":-355},{"g":"Dendritic","id":"b3","t":0.54,"v":-360},{"g":"Dendritic","id":"b3","t":0.597,"v":-364},{"g":"Dendritic","id":"b3","t":0.603,"v":-218},{"g":"Dendritic","id":"b3","t":0.61,"v":-196},{"g":"Dendritic","id":"b3","t":0.62,"v":-182},{"g":"Dendritic","id":"b3","t":0.635,"v":-165},{"g":"Dendritic","id":"b3","t":0.648,"v":-155},{"g":"Dendritic","id":"b3","t":0.67,"v":-143},{"g":"Dendritic","id":"b3","t":0.703,"v":-129},{"g":"Dendritic","id":"b3","t":0.75,"v":-113},{"g":"Dendritic","id":"b3","t":0.8,"v":-100},{"g":"Dendritic","id":"b3","t":0.85,"v":-89},{"g":"Dendritic","id":"b3","t":0.94,"v":-75},{"g":"Dendritic","id":"b3","t":1.03,"v":-66},{"g":"Dendritic","id":"b3","t":1.125,"v":-59},{"g":"Dendritic","id":"b3","t":1.2,"v":-54},{"g":"Dendritic","id":"b3","t":1.3,"v":-50},{"g":"Dendritic","id":"b3","t":1.4,"v":-47},{"g":"Dendritic","id":"b3","t":1.5,"v":-45},{"g":"Dendritic","id":"b3","t":1.7,"v":-43.5},{"g":"Dendritic","id":"b3","t":2,"v":-42.5},

{"g":"Dendritic","id":"b4","t":0,"v":-42},{"g":"Dendritic","id":"b4","t":0.1,"v":-42},{"g":"Dendritic","id":"b4","t":0.103,"v":-115},{"g":"Dendritic","id":"b4","t":0.108,"v":-190},{"g":"Dendritic","id":"b4","t":0.116,"v":-230},{"g":"Dendritic","id":"b4","t":0.14,"v":-268},{"g":"Dendritic","id":"b4","t":0.189,"v":-302},{"g":"Dendritic","id":"b4","t":0.25,"v":-327},{"g":"Dendritic","id":"b4","t":0.3,"v":-345},{"g":"Dendritic","id":"b4","t":0.35,"v":-358},{"g":"Dendritic","id":"b4","t":0.39,"v":-366},{"g":"Dendritic","id":"b4","t":0.44,"v":-374},{"g":"Dendritic","id":"b4","t":0.483,"v":-380},{"g":"Dendritic","id":"b4","t":0.54,"v":-386},{"g":"Dendritic","id":"b4","t":0.597,"v":-390},{"g":"Dendritic","id":"b4","t":0.603,"v":-220},{"g":"Dendritic","id":"b4","t":0.61,"v":-197},{"g":"Dendritic","id":"b4","t":0.62,"v":-183},{"g":"Dendritic","id":"b4","t":0.635,"v":-166},{"g":"Dendritic","id":"b4","t":0.648,"v":-156},{"g":"Dendritic","id":"b4","t":0.67,"v":-144},{"g":"Dendritic","id":"b4","t":0.703,"v":-130},{"g":"Dendritic","id":"b4","t":0.75,"v":-114},{"g":"Dendritic","id":"b4","t":0.8,"v":-101},{"g":"Dendritic","id":"b4","t":0.85,"v":-90},{"g":"Dendritic","id":"b4","t":0.94,"v":-75},{"g":"Dendritic","id":"b4","t":1.03,"v":-66},{"g":"Dendritic","id":"b4","t":1.125,"v":-60},{"g":"Dendritic","id":"b4","t":1.2,"v":-54},{"g":"Dendritic","id":"b4","t":1.3,"v":-50},{"g":"Dendritic","id":"b4","t":1.4,"v":-47},{"g":"Dendritic","id":"b4","t":1.5,"v":-45},{"g":"Dendritic","id":"b4","t":1.7,"v":-43.5},{"g":"Dendritic","id":"b4","t":2,"v":-42.5},

{"g":"Dendritic","id":"b5","t":0,"v":-42},{"g":"Dendritic","id":"b5","t":0.1,"v":-42},{"g":"Dendritic","id":"b5","t":0.103,"v":-120},{"g":"Dendritic","id":"b5","t":0.108,"v":-200},{"g":"Dendritic","id":"b5","t":0.116,"v":-245},{"g":"Dendritic","id":"b5","t":0.14,"v":-285},{"g":"Dendritic","id":"b5","t":0.189,"v":-320},{"g":"Dendritic","id":"b5","t":0.25,"v":-347},{"g":"Dendritic","id":"b5","t":0.3,"v":-366},{"g":"Dendritic","id":"b5","t":0.35,"v":-380},{"g":"Dendritic","id":"b5","t":0.39,"v":-389},{"g":"Dendritic","id":"b5","t":0.44,"v":-398},{"g":"Dendritic","id":"b5","t":0.483,"v":-404},{"g":"Dendritic","id":"b5","t":0.54,"v":-410},{"g":"Dendritic","id":"b5","t":0.597,"v":-414},{"g":"Dendritic","id":"b5","t":0.603,"v":-222},{"g":"Dendritic","id":"b5","t":0.61,"v":-198},{"g":"Dendritic","id":"b5","t":0.62,"v":-184},{"g":"Dendritic","id":"b5","t":0.635,"v":-167},{"g":"Dendritic","id":"b5","t":0.648,"v":-157},{"g":"Dendritic","id":"b5","t":0.67,"v":-145},{"g":"Dendritic","id":"b5","t":0.703,"v":-131},{"g":"Dendritic","id":"b5","t":0.75,"v":-115},{"g":"Dendritic","id":"b5","t":0.8,"v":-102},{"g":"Dendritic","id":"b5","t":0.85,"v":-90},{"g":"Dendritic","id":"b5","t":0.94,"v":-76},{"g":"Dendritic","id":"b5","t":1.03,"v":-66},{"g":"Dendritic","id":"b5","t":1.125,"v":-60},{"g":"Dendritic","id":"b5","t":1.2,"v":-54},{"g":"Dendritic","id":"b5","t":1.3,"v":-50},{"g":"Dendritic","id":"b5","t":1.4,"v":-47},{"g":"Dendritic","id":"b5","t":1.5,"v":-45},{"g":"Dendritic","id":"b5","t":1.7,"v":-43.5},{"g":"Dendritic","id":"b5","t":2,"v":-42.5},

{"g":"Synaptic","id":"r1","t":0,"v":-42},{"g":"Synaptic","id":"r1","t":0.1,"v":-42},{"g":"Synaptic","id":"r1","t":0.134,"v":0},{"g":"Synaptic","id":"r1","t":0.17,"v":37},{"g":"Synaptic","id":"r1","t":0.207,"v":70},{"g":"Synaptic","id":"r1","t":0.253,"v":107},{"g":"Synaptic","id":"r1","t":0.3,"v":137},{"g":"Synaptic","id":"r1","t":0.35,"v":160},{"g":"Synaptic","id":"r1","t":0.4,"v":178},{"g":"Synaptic","id":"r1","t":0.45,"v":194},{"g":"Synaptic","id":"r1","t":0.5,"v":206},{"g":"Synaptic","id":"r1","t":0.55,"v":216},{"g":"Synaptic","id":"r1","t":0.6,"v":226},{"g":"Synaptic","id":"r1","t":0.63,"v":192},{"g":"Synaptic","id":"r1","t":0.666,"v":152},{"g":"Synaptic","id":"r1","t":0.7,"v":125},{"g":"Synaptic","id":"r1","t":0.721,"v":106},{"g":"Synaptic","id":"r1","t":0.75,"v":88},{"g":"Synaptic","id":"r1","t":0.776,"v":70},{"g":"Synaptic","id":"r1","t":0.8,"v":57},{"g":"Synaptic","id":"r1","t":0.85,"v":35},{"g":"Synaptic","id":"r1","t":0.9,"v":19},{"g":"Synaptic","id":"r1","t":0.95,"v":6},{"g":"Synaptic","id":"r1","t":1.0,"v":-4},{"g":"Synaptic","id":"r1","t":1.05,"v":-13},{"g":"Synaptic","id":"r1","t":1.1,"v":-20},{"g":"Synaptic","id":"r1","t":1.2,"v":-29},{"g":"Synaptic","id":"r1","t":1.3,"v":-34},{"g":"Synaptic","id":"r1","t":1.4,"v":-37.5},{"g":"Synaptic","id":"r1","t":1.5,"v":-39.5},{"g":"Synaptic","id":"r1","t":1.7,"v":-41.3},{"g":"Synaptic","id":"r1","t":2,"v":-42},

{"g":"Synaptic","id":"r2","t":0,"v":-42},{"g":"Synaptic","id":"r2","t":0.1,"v":-42},{"g":"Synaptic","id":"r2","t":0.134,"v":1},{"g":"Synaptic","id":"r2","t":0.17,"v":39},{"g":"Synaptic","id":"r2","t":0.207,"v":72},{"g":"Synaptic","id":"r2","t":0.253,"v":109},{"g":"Synaptic","id":"r2","t":0.3,"v":139},{"g":"Synaptic","id":"r2","t":0.35,"v":163},{"g":"Synaptic","id":"r2","t":0.4,"v":182},{"g":"Synaptic","id":"r2","t":0.45,"v":198},{"g":"Synaptic","id":"r2","t":0.5,"v":211},{"g":"Synaptic","id":"r2","t":0.55,"v":221},{"g":"Synaptic","id":"r2","t":0.6,"v":231},{"g":"Synaptic","id":"r2","t":0.63,"v":197},{"g":"Synaptic","id":"r2","t":0.666,"v":157},{"g":"Synaptic","id":"r2","t":0.7,"v":130},{"g":"Synaptic","id":"r2","t":0.75,"v":92},{"g":"Synaptic","id":"r2","t":0.8,"v":61},{"g":"Synaptic","id":"r2","t":0.85,"v":38},{"g":"Synaptic","id":"r2","t":0.9,"v":22},{"g":"Synaptic","id":"r2","t":1.0,"v":-2},{"g":"Synaptic","id":"r2","t":1.1,"v":-18},{"g":"Synaptic","id":"r2","t":1.2,"v":-27},{"g":"Synaptic","id":"r2","t":1.3,"v":-33},{"g":"Synaptic","id":"r2","t":1.4,"v":-37},{"g":"Synaptic","id":"r2","t":1.5,"v":-39},{"g":"Synaptic","id":"r2","t":1.7,"v":-41},{"g":"Synaptic","id":"r2","t":2,"v":-42}
]
},
"hconcat": [
{
 "title": {"text": "A", "anchor": "start", "fontSize": 28, "dx": -18, "offset": 28},
 "resolve": {"scale": {"color": "independent"}},
 "vconcat": [{
  "width": 363, "height": 286,
  "title": {"text": "Radius at synapses: 2 µm", "fontSize": 23, "offset": 14},
  "data": {"name": "A"},
  "encoding": {
   "x": {"field": "t", "type": "quantitative", "scale": {"domain": [0, 2], "nice": false}, "axis": {"title": "ms", "values": [0, 0.5, 1, 1.5, 2], "labelExpr": "'' + datum.value", "labelPadding": 14, "titlePadding": 3}},
   "y": {"field": "v", "type": "quantitative", "scale": {"domain": [-450, 250], "nice": false}, "axis": {"title": "mV", "values": [-400, -200, 0, 200], "labelExpr": "'' + datum.value", "titlePadding": 10}},
   "color": {"field": "g", "type": "nominal", "scale": {"domain": ["Somatic", "Axonal", "Dendritic", "Synaptic"], "range": ["#00ff00", "#000000", "#0000ff", "#ff0000"]},
     "legend": {"orient": "none", "legendX": 234, "legendY": 7.5, "title": null, "symbolType": "M-3,0H3", "symbolSize": 196, "symbolStrokeWidth": 2, "symbolOffset": 17, "labelOffset": 17, "padding": 6, "rowPadding": 5.6, "strokeColor": "black", "fillColor": "white"}},
   "detail": {"field": "id"}
  },
  "layer": [
   {"transform": [{"filter": "datum.g === 'Somatic'"}], "mark": {"type": "line", "strokeWidth": 1.8}},
   {"transform": [{"filter": "datum.g === 'Axonal'"}], "mark": {"type": "line", "strokeWidth": 1.8}},
   {"transform": [{"filter": "datum.g === 'Dendritic'"}], "mark": {"type": "line", "strokeWidth": 1.8}},
   {"transform": [{"filter": "datum.g === 'Synaptic'"}], "mark": {"type": "line", "strokeWidth": 2.2}}
  ]
 }]
},
{
 "title": {"text": "B", "anchor": "start", "fontSize": 28, "dx": -18, "offset": 28},
 "resolve": {"scale": {"color": "independent"}},
 "vconcat": [{
  "width": 363, "height": 286,
  "title": {"text": "Radius at synapses: 0.6 µm", "fontSize": 23, "offset": 14},
  "data": {"name": "B"},
  "encoding": {
   "x": {"field": "t", "type": "quantitative", "scale": {"domain": [0, 2], "nice": false}, "axis": {"title": "ms", "values": [0, 0.5, 1, 1.5, 2], "labelExpr": "'' + datum.value", "labelPadding": 14, "titlePadding": 3}},
   "y": {"field": "v", "type": "quantitative", "scale": {"domain": [-450, 250], "nice": false}, "axis": {"title": "mV", "values": [-400, -200, 0, 200], "labelExpr": "'' + datum.value", "titlePadding": 10}},
   "color": {"field": "g", "type": "nominal", "scale": {"domain": ["Somatic", "Axonal", "Dendritic", "Synaptic"], "range": ["#00ff00", "#000000", "#0000ff", "#ff0000"]},
     "legend": {"orient": "none", "legendX": 234, "legendY": 7.5, "title": null, "symbolType": "M-3,0H3", "symbolSize": 196, "symbolStrokeWidth": 2, "symbolOffset": 17, "labelOffset": 17, "padding": 6, "rowPadding": 5.6, "strokeColor": "black", "fillColor": "white"}},
   "detail": {"field": "id"}
  },
  "layer": [
   {"transform": [{"filter": "datum.g === 'Somatic'"}], "mark": {"type": "line", "strokeWidth": 1.8}},
   {"transform": [{"filter": "datum.g === 'Axonal'"}], "mark": {"type": "line", "strokeWidth": 1.8}},
   {"transform": [{"filter": "datum.g === 'Dendritic'"}], "mark": {"type": "line", "strokeWidth": 1.8}},
   {"transform": [{"filter": "datum.g === 'Synaptic'"}], "mark": {"type": "line", "strokeWidth": 2.2}}
  ]
 }]
}
]
}
